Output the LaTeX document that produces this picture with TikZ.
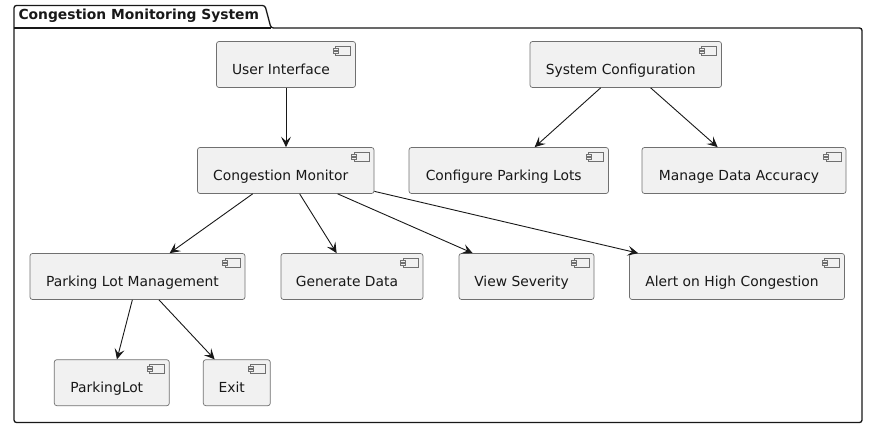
\documentclass[tikz,border=0pt]{standalone}
\usepackage{fontspec}
\setmainfont{DejaVu Sans}
\usetikzlibrary{calc,arrows.meta}
\definecolor{compfill}{HTML}{F1F1F1}
\definecolor{ink}{HTML}{181818}
\definecolor{compline}{HTML}{707070}
\begin{document}
\begin{tikzpicture}[x=1pt,y=-1pt,
  comp/.style={draw=compline, line width=0.7pt, fill=compfill, rounded corners=2.5pt,
    minimum height=46pt, inner sep=0pt, text height=20.4pt, text depth=0pt,
    font=\fontsize{13.85}{16}\selectfont, text=ink,
    path picture={
      \draw[compline, line width=0.6pt, sharp corners]
        ($(path picture bounding box.north east)+(-20,4.5)$) rectangle ++(15,9);
      \filldraw[compline, fill=compfill, line width=0.6pt, sharp corners]
        ($(path picture bounding box.north east)+(-22.5,6.5)$) rectangle ++(5,2);
      \filldraw[compline, fill=compfill, line width=0.6pt, sharp corners]
        ($(path picture bounding box.north east)+(-22.5,10)$) rectangle ++(5,2);
    }},
  conn/.style={draw=ink, line width=0.9pt, -{Stealth[length=10.5pt,width=10pt,inset=4.5pt]}},
  pkg/.style={draw=ink, line width=1.3pt, rounded corners=2.5pt}
]
\useasboundingbox (0,0) rectangle (873,435);

% package
\draw[pkg] (14,28) -- (14,5.5) -- (265,5.5) -- (271,28) -- (862,28) -- (862,422.5) -- (14,422.5) -- cycle;
\draw[pkg, sharp corners] (14,28) -- (271,28);
\node[anchor=base west, inner sep=0pt, text=ink, font=\bfseries\fontsize{13.85}{16}\selectfont] (title) at (18.3,20) {Congestion Monitoring System};

% components
\node[comp, minimum width=139pt]   (ui)    at (286,64.5)     {User Interface\kern10pt};
\node[comp, minimum width=191.5pt] (sc)    at (625.75,64.5)  {System Configuration\kern10pt};
\node[comp, minimum width=176.5pt] (cm)    at (285.75,170.5) {Congestion Monitor\kern10pt};
\node[comp, minimum width=199.5pt] (cpl)   at (508.75,170.5) {Configure Parking Lots\kern10pt};
\node[comp, minimum width=204pt]   (mda)   at (744,170.5)    {Manage Data Accuracy\kern10pt};
\node[comp, minimum width=215pt]   (plm)   at (137.5,276.5)  {Parking Lot Management\kern10pt};
\node[comp, minimum width=142pt]   (gd)    at (352,276.5)    {Generate Data\kern10pt};
\node[comp, minimum width=135pt]   (vs)    at (526.5,276.5)  {View Severity\kern10pt};
\node[comp, minimum width=215pt]   (alert) at (737,276.5)    {Alert on High Congestion\kern10pt};
\node[comp, minimum width=115pt]   (pl)    at (111.8,382.7)  {ParkingLot\kern10pt};
\node[comp, minimum width=67pt]    (exit)  at (236.8,382.7)  {Exit\kern10pt};

% connectors
\draw[conn] (ui.south) -- (ui.south |- cm.north);
\draw[conn] ($(sc.south west)+(71,0)$) -- ($(cpl.north west)+(126,0)$);
\draw[conn] ($(sc.south west)+(121,0)$) -- ($(mda.north west)+(76,0)$);
\draw[conn] ($(cm.south west)+(55.5,0)$) -- ($(plm.north west)+(140,0)$);
\draw[conn] ($(cm.south west)+(102.5,0)$) -- ($(gd.north west)+(56,0)$);
\draw[conn] ($(cm.south west)+(140.5,0)$) -- ($(vs.north west)+(14,0)$);
\draw[conn] ($(cm.south east)+(0,-2.5)$) -- ($(alert.north west)+(9,0)$);
\draw[conn] ($(plm.south west)+(102.7,0)$) -- ($(pl.north west)+(63,0)$);
\draw[conn] ($(plm.south west)+(129.3,0)$) -- ($(exit.north west)+(11.7,0)$);
\end{tikzpicture}
\end{document}
